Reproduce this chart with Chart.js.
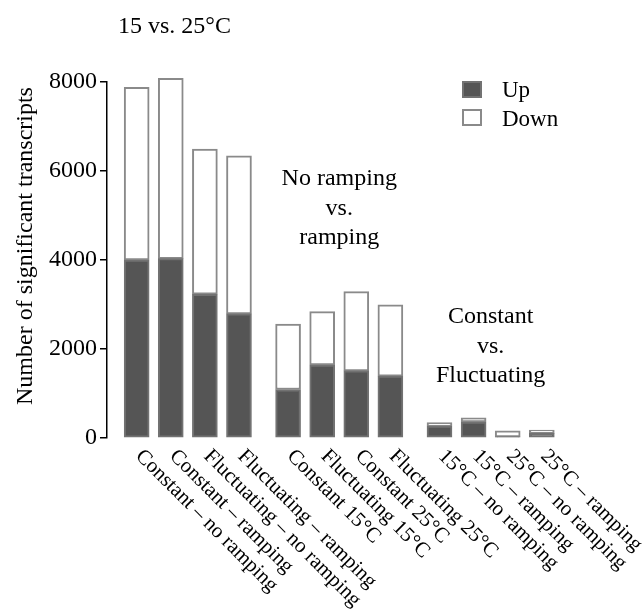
<!DOCTYPE html>
<html>
<head>
<meta charset="utf-8">
<script src="https://cdn.jsdelivr.net/npm/chart.js@4.4.1/dist/chart.umd.min.js"></script>
<style>
  html, body { margin: 0; padding: 0; background: #fff; }
</style>
</head>
<body>
<canvas id="chart" width="644" height="610"></canvas>
<script>
// data
var categories = [
  'Constant – no ramping', 'Constant – ramping', 'Fluctuating – no ramping', 'Fluctuating – ramping',
  'Constant 15°C', 'Fluctuating 15°C', 'Constant 25°C', 'Fluctuating 25°C',
  '15°C – no ramping', '15°C – ramping', '25°C – no ramping', '25°C – ramping'
]
var groups = [0, 0, 0, 0, 1, 1, 1, 1, 2, 2, 2, 2]
var upValues = [4000, 4030, 3230, 2790, 1090, 1640, 1510, 1390, 270, 360, 25, 105]
var downValues = [3880, 4050, 3260, 3550, 1470, 1200, 1780, 1600, 75, 95, 135, 75]
var groupTitles = [['15 vs. 25°C'], ['No ramping', 'vs.', 'ramping'], ['Constant', 'vs.', 'Fluctuating']]
var yTicks = [0, 2000, 4000, 6000, 8000]
var yTitle = 'Number of significant transcripts'
var seriesNames = ['Up', 'Down']

var FONT = '"Liberation Serif", "DejaVu Serif", serif'
var GAP = 0.44 // extra space between the groups, in bar slots

// bar positions on the linear x axis: slot index plus group gap
var pos = categories.map(function (c, i) { return i + groups[i] * GAP })

function points (values) {
  return values.map(function (v, i) { return { x: pos[i], y: v } })
}

var annotations = {
  id: 'annotations',
  afterDraw: function (chart) {
    var c = chart.ctx
    var xs = chart.scales.x
    var ys = chart.scales.y
    c.save()
    c.fillStyle = '#000'
    c.font = '24px ' + FONT

    // y axis title
    c.save()
    c.translate(24, 246)
    c.rotate(-Math.PI / 2)
    c.textAlign = 'center'
    c.textBaseline = 'alphabetic'
    c.fillText(yTitle, 0, 8)
    c.restore()

    // group titles
    c.textAlign = 'left'
    c.fillText(groupTitles[0][0], 118, 33)
    c.textAlign = 'center'
    var firstBaseline = [33, 185, 323]
    for (var g = 1; g < groupTitles.length; g++) {
      var idx = []
      groups.forEach(function (gg, i) { if (gg === g) idx.push(i) })
      var cx = (xs.getPixelForValue(pos[idx[0]]) + xs.getPixelForValue(pos[idx[idx.length - 1]])) / 2
      groupTitles[g].forEach(function (line, k) {
        c.fillText(line, cx, firstBaseline[g] + k * 29.5)
      })
    }

    // rotated category labels
    c.font = '21px ' + FONT
    c.textAlign = 'left'
    c.textBaseline = 'middle'
    categories.forEach(function (label, i) {
      var px = xs.getPixelForValue(pos[i])
      c.save()
      c.translate(px + 2, ys.bottom + 15)
      c.rotate(Math.PI / 4)
      c.fillText(label, 0, 0)
      c.restore()
    })

    // legend
    c.font = '23px ' + FONT
    c.textBaseline = 'alphabetic'
    chart.data.datasets.forEach(function (ds, k) {
      var top = 82 + k * 28
      c.fillStyle = ds.backgroundColor
      c.fillRect(463, top, 18, 15)
      c.strokeStyle = ds.borderColor
      c.lineWidth = 2
      c.strokeRect(463, top, 18, 15)
      c.fillStyle = '#000'
      c.fillText(ds.label, 502, top + 15 + k * 1)
    })
    c.restore()
  }
}

new Chart(document.getElementById('chart'), {
  type: 'bar',
  data: {
    datasets: [
      {
        label: seriesNames[0],
        data: points(upValues),
        backgroundColor: '#555555',
        borderColor: '#727272',
        borderWidth: 2,
        borderSkipped: false,
        barThickness: 25,
        clip: false
      },
      {
        label: seriesNames[1],
        data: points(downValues),
        backgroundColor: '#ffffff',
        borderColor: '#8a8a8a',
        borderWidth: 2,
        borderSkipped: false,
        barThickness: 25,
        clip: false
      }
    ]
  },
  options: {
    responsive: false,
    animation: false,
    layout: { padding: { left: 46, right: 64, top: 82, bottom: 172 } },
    plugins: {
      legend: { display: false },
      tooltip: { enabled: false }
    },
    scales: {
      x: {
        type: 'linear',
        stacked: true,
        offset: false,
        min: -0.87,
        max: 13,
        display: false
      },
      y: {
        stacked: true,
        min: 0,
        max: 8000,
        afterBuildTicks: function (scale) {
          scale.ticks = yTicks.map(function (v) { return { value: v } })
        },
        ticks: {
          color: '#000',
          padding: 3,
          font: { family: FONT, size: 24 },
          callback: function (v) { return String(v) }
        },
        grid: {
          drawOnChartArea: false,
          tickLength: 7,
          color: '#000',
          lineWidth: 1.5
        },
        border: { color: '#000', width: 1.5 }
      }
    }
  },
  plugins: [annotations]
})
</script>
</body>
</html>
